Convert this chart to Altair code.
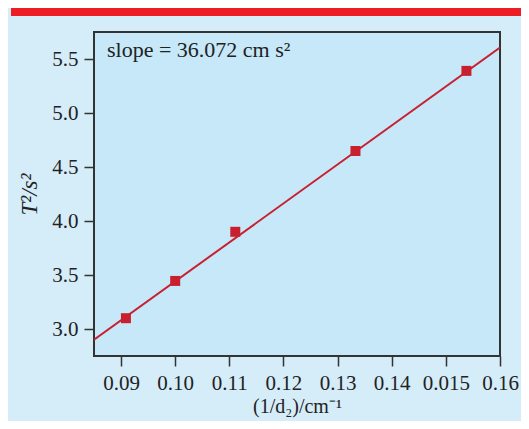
import altair as alt
import pandas as pd

# data
inv_d = [0.0909, 0.1000, 0.1111, 0.1333, 0.1538]
t_sq = [3.10, 3.445, 3.90, 4.648, 5.39]
fit_x = [0.085, 0.160]
fit_y = [2.90, 5.606]
x_ticks = [0.09, 0.10, 0.11, 0.12, 0.13, 0.14, 0.15, 0.16]
y_ticks = [3.0, 3.5, 4.0, 4.5, 5.0, 5.5]

W, H = 406, 324
PAD = {"left": 86, "top": 24, "right": 21, "bottom": 65}
FONT = "Liberation Serif"
FS = 21
RED = "#c8202f"
DARK = "#333333"
TXT = "#222222"

pts = pd.DataFrame({"x": inv_d, "y": t_sq})
fit = pd.DataFrame({"x": fit_x, "y": fit_y})
one = pd.DataFrame({"a": [0]})

xscale = alt.Scale(domain=[0.085, 0.16], nice=False, zero=False)
yscale = alt.Scale(domain=[2.75, 5.75], nice=False, zero=False)

xaxis = alt.Axis(
    values=x_ticks,
    labelExpr="(datum.value > 0.145 && datum.value < 0.155) ? '0.015' : format(datum.value, '.2f')",
    title="(1/d₂)/cm⁻¹",
    tickSize=10, tickColor=DARK, tickWidth=1.5, domain=False, grid=False,
    labelFont=FONT, labelFontSize=FS, labelColor=TXT, labelPadding=6,
    labelOverlap=False, labelFlush=False,
    titleFont=FONT, titleFontSize=20, titleFontWeight="normal", titleColor=TXT,
    titlePadding=3,
)
yaxis = alt.Axis(
    values=y_ticks, format=".1f", title="T²/s²",
    tickSize=10, tickColor=DARK, tickWidth=1.5, domain=False, grid=False,
    labelFont=FONT, labelFontSize=FS, labelColor=TXT, labelPadding=6,
    labelOverlap=False,
    titleFont=FONT, titleFontSize=23, titleFontWeight="normal", titleColor=TXT,
    titleFontStyle="italic", titlePadding=10,
)

band = alt.Chart(one).mark_rect(color="#ee1c25").encode(
    x=alt.value(-PAD["left"] + 3), x2=alt.value(W + PAD["right"]),
    y=alt.value(-PAD["top"]), y2=alt.value(-PAD["top"] + 8),
)

line = alt.Chart(fit).mark_line(color=RED, strokeWidth=2, clip=True).encode(
    x=alt.X("x:Q", scale=xscale, axis=xaxis),
    y=alt.Y("y:Q", scale=yscale, axis=yaxis),
)

points = alt.Chart(pts).mark_square(color=RED, size=100, opacity=1).encode(
    x=alt.X("x:Q", scale=xscale),
    y=alt.Y("y:Q", scale=yscale),
)

label = alt.Chart(one).mark_text(
    text="slope = 36.072 cm s²", align="left", baseline="middle",
    font=FONT, fontSize=22, color=TXT,
).encode(x=alt.value(13), y=alt.value(18))

chart = alt.layer(band, line, points, label).properties(
    width=W, height=H,
    padding=PAD,
    autosize=alt.AutoSizeParams(type="none"),
    background="#d5ecf9",
).configure_view(
    fill="#c6e8f8", stroke=DARK, strokeWidth=2,
)

chart.save("out.html", embed_options={"renderer": "svg", "actions": False})
